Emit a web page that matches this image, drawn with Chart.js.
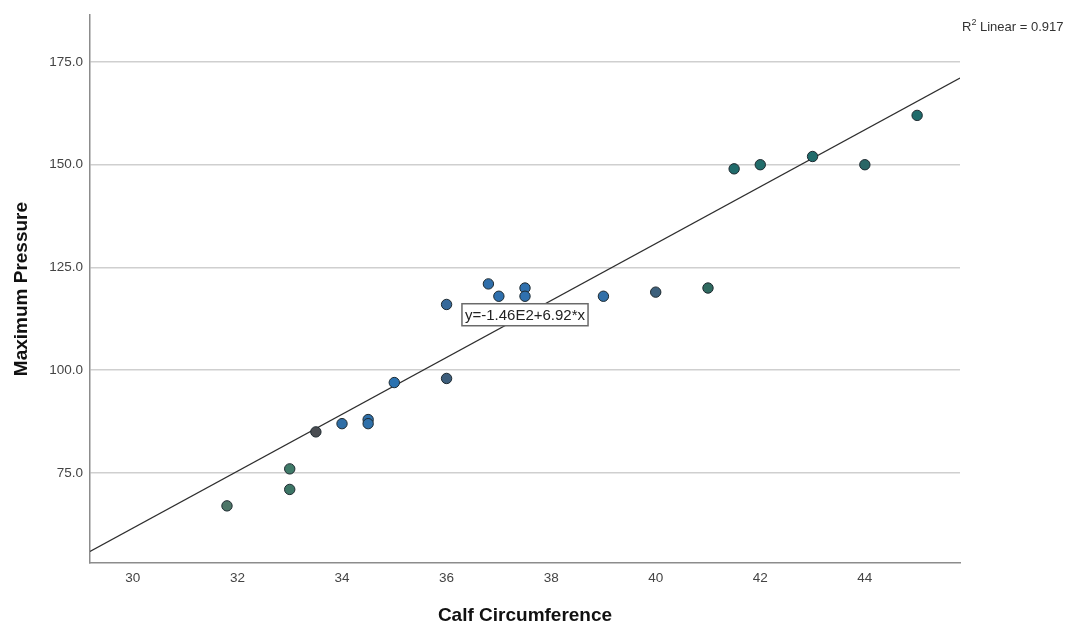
<!DOCTYPE html>
<html>
<head>
<meta charset="utf-8">
<title>Maximum Pressure vs Calf Circumference</title>
<script src="https://cdn.jsdelivr.net/npm/chart.js@4.4.1/dist/chart.umd.min.js"></script>
<style>
  html, body { margin: 0; padding: 0; background: #ffffff; }
  #wrap { position: relative; width: 1077px; height: 628px; }
</style>
</head>
<body>
<div id="wrap"><canvas id="chart" width="1077" height="628"></canvas></div>
<script>
// Observations: calf circumference (cm) and maximum pressure
const calfCircumference = [31.8, 33, 33, 33.5, 34, 34.5, 34.5, 35, 36, 36, 36.8, 37, 37.5, 37.5, 39, 40, 41, 41.5, 42, 43, 44, 45];
const maximumPressure   = [67, 76, 71, 85, 87, 88, 87, 97, 98, 116, 121, 118, 120, 118, 118, 119, 120, 149, 150, 152, 150, 162];

// Fitted linear model, as printed on the chart
const fitIntercept = -146;
const fitSlope = 6.92;
const fitLabel = 'y=-1.46E2+6.92*x';
const rSquaredLabel = ' Linear = 0.917';
const fitLabelAtX = 37.5;

// Axis ranges and tick values
const xRange = [29.18, 45.82];
const yRange = [53.1, 186.4];
const xTicks = [30, 32, 34, 36, 38, 40, 42, 44];
const yTicks = [75, 100, 125, 150, 175];

// Marker fills
const markerFill = ['#4d7668', '#3f7a68', '#3c7565', '#4a4d52', '#2f6ea6', '#2f70aa', '#2f70aa', '#2b72b0',
                    '#3d5e7c', '#36699a', '#2f6eaa', '#2f70ae', '#2f70ae', '#2f70ae', '#3270a8', '#3d607c',
                    '#2f6a60', '#206b6b', '#226d6b', '#1f6b6b', '#2a6666', '#1f6b6b'];

const FONT = '"Liberation Sans", Arial, sans-serif';

const points = calfCircumference.map((x, i) => ({ x: x, y: maximumPressure[i] }));
const fitLine = xRange.map(x => ({ x: x, y: fitIntercept + fitSlope * x }));

const annotations = {
  id: 'annotations',
  afterDatasetsDraw(chart) {
    const { ctx, chartArea, scales } = chart;
    ctx.save();
    // equation box centred on the fit line
    const ex = scales.x.getPixelForValue(fitLabelAtX);
    const ey = scales.y.getPixelForValue(fitIntercept + fitSlope * fitLabelAtX);
    ctx.font = '15px ' + FONT;
    const tw = ctx.measureText(fitLabel).width;
    const bw = tw + 6, bh = 22;
    ctx.fillStyle = '#ffffff';
    ctx.fillRect(ex - bw / 2, ey - bh / 2, bw, bh);
    ctx.strokeStyle = '#6a6a6a';
    ctx.lineWidth = 1.5;
    ctx.strokeRect(ex - bw / 2, ey - bh / 2, bw, bh);
    ctx.fillStyle = '#222222';
    ctx.textAlign = 'center';
    ctx.textBaseline = 'middle';
    ctx.fillText(fitLabel, ex, ey + 1);

    // R squared label at the top right
    const rx = chartArea.right + 2;
    const ry = chartArea.top + 16;
    ctx.textAlign = 'left';
    ctx.textBaseline = 'alphabetic';
    ctx.fillStyle = '#333333';
    ctx.font = '13px ' + FONT;
    ctx.fillText('R', rx, ry);
    let cx = rx + ctx.measureText('R').width;
    ctx.font = '9px ' + FONT;
    ctx.fillText('2', cx, ry - 6);
    cx += ctx.measureText('2').width;
    ctx.font = '13px ' + FONT;
    ctx.fillText(rSquaredLabel, cx, ry);
    ctx.restore();
  }
};

new Chart(document.getElementById('chart'), {
  data: {
    datasets: [
      {
        type: 'scatter',
        label: 'Maximum Pressure',
        data: points,
        backgroundColor: markerFill,
        borderColor: '#1e2a30',
        borderWidth: 1,
        pointRadius: 5.2,
        order: 1
      },
      {
        type: 'line',
        label: 'Linear fit',
        data: fitLine,
        borderColor: '#2e2e2e',
        borderWidth: 1.2,
        pointRadius: 0,
        fill: false,
        tension: 0,
        order: 2
      }
    ]
  },
  plugins: [annotations],
  options: {
    responsive: false,
    animation: false,
    events: [],
    layout: { padding: { left: 0, top: 15, right: 117, bottom: 0 } },
    plugins: {
      legend: { display: false },
      tooltip: { enabled: false },
      title: { display: false }
    },
    scales: {
      x: {
        type: 'linear',
        position: 'bottom',
        min: xRange[0],
        max: xRange[1],
        afterBuildTicks: s => { s.ticks = xTicks.map(v => ({ value: v })); },
        afterFit: s => { s.height = 65; },
        grid: { display: false, drawTicks: false },
        border: { display: true, color: '#8c8c8c', width: 1.5 },
        ticks: {
          padding: 7,
          color: '#444444',
          font: { family: FONT, size: 13.5 },
          maxRotation: 0,
          autoSkip: false,
          callback: v => String(v)
        },
        title: {
          display: true,
          text: 'Calf Circumference',
          color: '#111111',
          font: { family: FONT, size: 19, weight: 'bold' },
          padding: { top: 0, bottom: 1 }
        }
      },
      y: {
        type: 'linear',
        position: 'left',
        min: yRange[0],
        max: yRange[1],
        afterBuildTicks: s => { s.ticks = yTicks.map(v => ({ value: v })); },
        afterFit: s => { s.width = 90; },
        grid: { display: true, drawTicks: false, color: '#cfcfcf', lineWidth: 1.5 },
        border: { display: true, color: '#8c8c8c', width: 1.5 },
        ticks: {
          padding: 7,
          color: '#444444',
          font: { family: FONT, size: 13.5 },
          autoSkip: false,
          callback: v => Number(v).toFixed(1)
        },
        title: {
          display: true,
          text: 'Maximum Pressure',
          color: '#111111',
          font: { family: FONT, size: 19, weight: 'bold' },
          padding: { top: 10, bottom: 0 }
        }
      }
    }
  }
});
</script>
</body>
</html>
